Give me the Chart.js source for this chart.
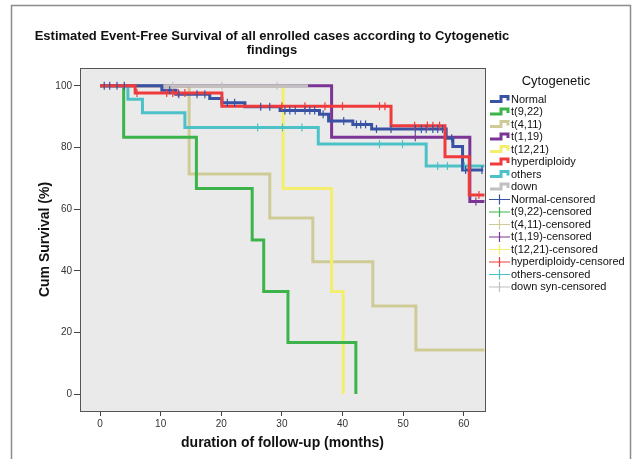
<!DOCTYPE html>
<html>
<head>
<meta charset="utf-8">
<script src="https://cdn.jsdelivr.net/npm/chart.js@4"></script>
<style>
  body { margin: 0; background: #fff; }
</style>
</head>
<body>
<canvas id="km" width="637" height="459"></canvas>
<script>
const groups = ['Normal', 't(9,22)', 't(4,11)', 't(1,19)', 't(12,21)', 'hyperdiploidy', 'others', 'down'];
const censoredLabels = ['Normal-censored', 't(9,22)-censored', 't(4,11)-censored', 't(1,19)-censored',
  't(12,21)-censored', 'hyperdiploidy-censored', 'others-censored', 'down syn-censored'];
const colors = ['#3953a4', '#3cb44b', '#cfcb96', '#7b3695', '#f3ee6b', '#ef3b3c', '#4cc2c8', '#c0c0c0'];

const xTicks = [0, 10, 20, 30, 40, 50, 60];
const yTicks = [0, 20, 40, 60, 80, 100];

// event times (months) and survival (%) after each step
const normalTime = [0, 10.2, 12.5, 18.1, 20.1, 23.9, 29.7, 36.2, 37.7, 41.7, 44.8, 57.1, 58.2, 59.8, 63.2];
const normalSurv = [100, 98.6, 97.3, 95.9, 94.5, 93.2, 92.0, 90.8, 88.6, 87.5, 86.0, 83.0, 80.3, 72.7, 72.7];
const t922Time = [0, 3.9, 15.9, 25.1, 27.0, 31.0, 42.2];
const t922Surv = [100, 83.3, 66.7, 50, 33.3, 16.7, 0];
const t411Time = [0, 14.7, 28.0, 35.1, 45.0, 52.1, 63.4];
const t411Surv = [100, 71.4, 57.1, 42.9, 28.6, 14.3, 14.3];
const t119Time = [0, 38.2, 61.0, 63.4];
const t119Surv = [100, 83.3, 62.5, 62.5];
const t1221Time = [0, 30.2, 38.2, 40.1];
const t1221Surv = [100, 66.7, 33.3, 0];
const hyperTime = [0, 5.8, 20.1, 48.0, 56.9, 60.9, 63.4];
const hyperSurv = [100, 97.7, 93.4, 87.1, 77.0, 64.6, 64.6];
const othersTime = [0, 4.6, 7.0, 14.0, 36.0, 53.8, 63.4];
const othersSurv = [100, 95.7, 91.3, 86.5, 81.1, 74.0, 74.0];
const downTime = [0, 34.3];
const downSurv = [100, 100];

// censored follow-up times (months)
const normalCens = [0.7, 1.6, 2.8, 4.0, 11.5, 13.0, 16.0, 17.3, 21.0, 22.2, 26.5, 28.0, 30.5, 31.3, 32.2,
  33.8, 34.6, 35.4, 36.8, 40.2, 42.3, 43.0, 43.8, 45.6, 48.0, 52.0, 53.0, 53.8, 54.9, 55.7, 56.5, 58.0, 60.3, 63.0];
const t922Cens = [];
const t411Cens = [];
const t119Cens = [52.0, 62.0];
const t1221Cens = [];
const hyperCens = [6.1, 11.0, 12.0, 12.9, 14.0, 30.0, 33.8, 37.1, 40.0, 46.1, 47.0, 51.9, 54.0, 54.9, 56.0, 62.5];
const othersCens = [26.0, 30.1, 33.3, 46.1, 49.9, 55.7, 57.3, 60.1];
const downCens = [12.0, 20.1, 29.2];

const steps = [[normalTime, normalSurv], [t922Time, t922Surv], [t411Time, t411Surv], [t119Time, t119Surv],
  [t1221Time, t1221Surv], [hyperTime, hyperSurv], [othersTime, othersSurv], [downTime, downSurv]];
const censored = [normalCens, t922Cens, t411Cens, t119Cens, t1221Cens, hyperCens, othersCens, downCens];
// which curve sits on top (lower = on top)
const drawOrder = [2, 6, 8, 4, 7, 1, 5, 3];

function survAt(times, surv, t) {
  let s = surv[0];
  for (let i = 0; i < times.length; i++) if (times[i] <= t) s = surv[i];
  return s;
}

const datasets = [];
groups.forEach((g, i) => {
  const [tm, sv] = steps[i];
  datasets.push({
    type: 'line',
    label: g,
    data: tm.map((t, j) => ({ x: t, y: sv[j] })),
    borderColor: colors[i],
    borderWidth: 3,
    stepped: 'before',
    pointRadius: 0,
    fill: false,
    order: drawOrder[i]
  });
});
groups.forEach((g, i) => {
  const [tm, sv] = steps[i];
  datasets.push({
    type: 'scatter',
    label: censoredLabels[i],
    data: censored[i].map(t => ({ x: t, y: survAt(tm, sv, t) })),
    borderColor: colors[i],
    backgroundColor: colors[i],
    pointStyle: 'line',
    rotation: 90,
    pointRadius: 4,
    borderWidth: 1.2,
    order: 0
  });
});

const FONT = '"Liberation Sans", Arial, sans-serif';

const frame = {
  id: 'frame',
  beforeDraw(chart) {
    const { ctx, chartArea: a } = chart;
    ctx.save();
    ctx.fillStyle = '#fff';
    ctx.fillRect(0, 0, chart.width, chart.height);
    ctx.strokeStyle = '#8c8c8c';
    ctx.lineWidth = 1.5;
    ctx.strokeRect(11.5, 5.5, 619, 500);
    ctx.fillStyle = '#eaeaea';
    ctx.fillRect(a.left, a.top, a.right - a.left, a.bottom - a.top);
    ctx.restore();
  },
  afterDraw(chart) {
    const { ctx, chartArea: a } = chart;
    ctx.save();
    ctx.strokeStyle = '#555';
    ctx.lineWidth = 1;
    ctx.strokeRect(a.left + 0.5, a.top + 0.5, a.right - a.left, a.bottom - a.top);

    // legend
    ctx.fillStyle = '#111';
    ctx.font = '13px ' + FONT;
    ctx.textAlign = 'center';
    ctx.textBaseline = 'middle';
    ctx.fillText('Cytogenetic', 556, 81);
    ctx.font = '11px ' + FONT;
    ctx.textAlign = 'left';
    groups.concat(censoredLabels).forEach((lab, i) => {
      const y = 99.5 + i * 12.5;
      ctx.strokeStyle = colors[i % 8];
      ctx.beginPath();
      if (i < 8) {
        ctx.lineWidth = 3;
        ctx.moveTo(490, y + 2);
        ctx.lineTo(501, y + 2);
        ctx.lineTo(501, y - 3);
        ctx.lineTo(508, y - 3);
        ctx.lineTo(508, y + 1);
      } else {
        ctx.lineWidth = 1.2;
        ctx.moveTo(489, y);
        ctx.lineTo(510, y);
        ctx.moveTo(499.5, y - 5);
        ctx.lineTo(499.5, y + 5);
      }
      ctx.stroke();
      ctx.fillStyle = '#111';
      ctx.fillText(lab, 511, y);
    });
    ctx.restore();
  }
};

new Chart(document.getElementById('km'), {
  data: { datasets: datasets },
  options: {
    responsive: false,
    animation: false,
    layout: { padding: { left: 12, right: 105, top: 5, bottom: 4 } },
    plugins: {
      legend: { display: false },
      tooltip: { enabled: false },
      title: {
        display: true,
        text: ['Estimated Event-Free Survival of all enrolled cases according to Cytogenetic', 'findings'],
        color: '#111',
        font: { family: FONT, size: 13, weight: 'bold', lineHeight: 14 / 13 },
        padding: { top: 24, bottom: 11 }
      }
    },
    scales: {
      x: {
        type: 'linear',
        min: -3.3,
        max: 63.5,
        afterBuildTicks: s => { s.ticks = xTicks.map(v => ({ value: v })); },
        afterFit: s => { s.height = 44; },
        ticks: { color: '#333', font: { family: FONT, size: 10 }, padding: 2 },
        grid: { drawOnChartArea: false, drawTicks: true, tickLength: 5, tickColor: '#444' },
        border: { display: true, color: '#555' },
        title: {
          display: true,
          text: 'duration of follow-up (months)',
          color: '#111',
          font: { family: FONT, size: 14, weight: 'bold', lineHeight: 1.2 },
          padding: { top: 0, bottom: 3.6 }
        }
      },
      y: {
        type: 'linear',
        min: -5.5,
        max: 105.8,
        afterBuildTicks: s => { s.ticks = yTicks.map(v => ({ value: v })); },
        afterFit: s => { s.width = 68; },
        ticks: { color: '#333', font: { family: FONT, size: 10 }, padding: 2 },
        grid: { drawOnChartArea: false, drawTicks: true, tickLength: 6, tickColor: '#444' },
        border: { display: true, color: '#555' },
        title: {
          display: true,
          text: 'Cum Survival (%)',
          color: '#111',
          font: { family: FONT, size: 14, weight: 'bold', lineHeight: 1.2 },
          padding: { top: 25, bottom: 0 }
        }
      },
      spacer: {
        type: 'linear',
        position: 'right',
        min: -5.5,
        max: 105.8,
        afterFit: s => { s.width = 47; },
        ticks: { display: false },
        grid: { display: false },
        border: { display: false }
      }
    }
  },
  plugins: [frame]
});
</script>
</body>
</html>
